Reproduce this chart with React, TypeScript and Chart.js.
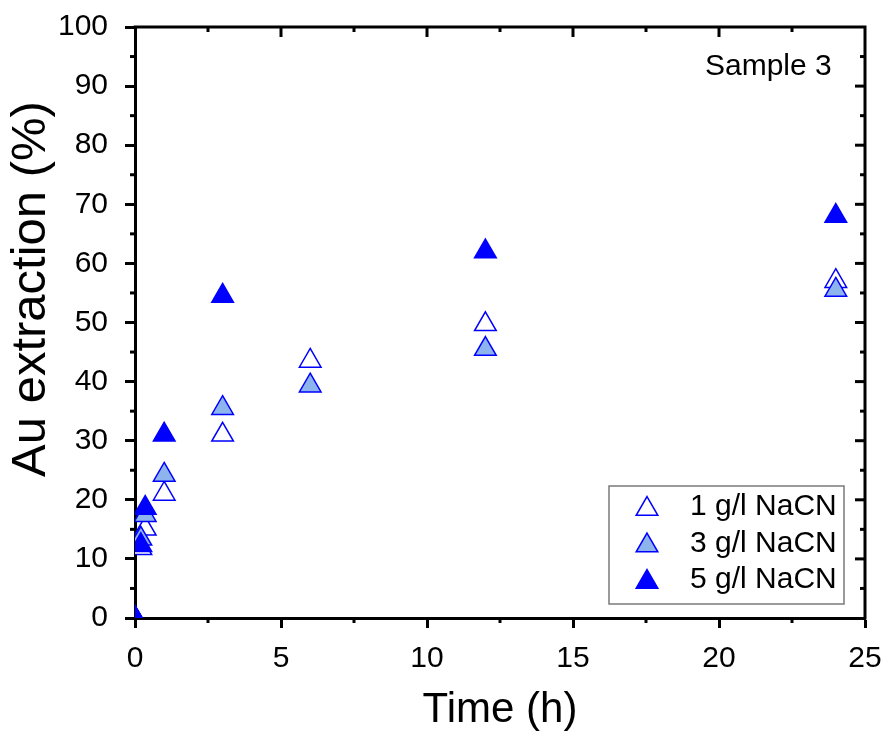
import { useEffect, useRef } from "react";
import { Chart, registerables } from "chart.js";

Chart.register(...registerables);

// Leaching time (h) and Au extraction (%) for each cyanide concentration
const time1 = [0, 0.2, 0.35, 1, 3, 6, 12, 24];
const gold1 = [0, 11.8, 15.1, 21, 31, 43.5, 49.7, 57];
const time3 = [0, 0.2, 0.35, 1, 3, 6, 12, 24];
const gold3 = [0, 13.4, 17.4, 24.2, 35.5, 39.3, 45.5, 55.5];
const time5 = [0, 0.2, 0.35, 1, 3, 12, 24];
const gold5 = [0, 12.3, 18.6, 31, 54.5, 62, 68];

const seriesNames = ["1 g/l NaCN", "3 g/l NaCN", "5 g/l NaCN"];
const seriesFills = ["#ffffff", "#8eb4ee", "#0000ff"];
const sampleName = "Sample 3";
const xTitle = "Time (h)";
const yTitle = "Au extraction (%)";

const xMin = 0;
const xMax = 25;
const xStep = 5;
const yMin = 0;
const yMax = 100;
const yStep = 10;

const FONT = "'Liberation Sans', Arial, sans-serif";
const EDGE = "#0000ff";
const R = 12.5;

function pairs(xs: number[], ys: number[]) {
  return xs.map((x, i) => ({ x, y: ys[i] }));
}

function triangle(ctx: CanvasRenderingContext2D, x: number, y: number, r: number, fill: string) {
  ctx.beginPath();
  ctx.moveTo(x, y - r);
  ctx.lineTo(x + r * Math.sin((2 * Math.PI) / 3), y + r / 2);
  ctx.lineTo(x - r * Math.sin((2 * Math.PI) / 3), y + r / 2);
  ctx.closePath();
  ctx.fillStyle = fill;
  ctx.fill();
  ctx.lineWidth = 1.5;
  ctx.strokeStyle = EDGE;
  ctx.stroke();
}

// keep the plot box where the layout padding puts it
function fixScale(s: any) {
  s.paddingTop = 0;
  s.paddingBottom = 0;
  s.paddingLeft = 0;
  s.paddingRight = 0;
}

// Frame on all four sides, minor ticks, mirrored ticks, titles and legend
const framePlugin = {
  id: "frame",
  afterDraw(chart: any) {
    const { ctx, chartArea: a, scales } = chart;
    const xs = scales.x;
    const ys = scales.y;
    ctx.save();
    ctx.strokeStyle = "#000";
    ctx.lineWidth = 3;
    ctx.lineCap = "butt";
    ctx.beginPath();
    ctx.moveTo(a.left - 1.5, a.top);
    ctx.lineTo(a.right, a.top);
    ctx.lineTo(a.right, a.bottom + 1.5);
    ctx.stroke();

    const tick = (x1: number, y1: number, x2: number, y2: number) => {
      ctx.beginPath();
      ctx.moveTo(x1, y1);
      ctx.lineTo(x2, y2);
      ctx.stroke();
    };
    for (let v = xMin; v <= xMax + 1e-9; v += xStep / 2) {
      const px = xs.getPixelForValue(v);
      const major = Math.abs(v / xStep - Math.round(v / xStep)) < 1e-6;
      const len = major ? 10 : 5;
      if (!major) tick(px, a.bottom, px, a.bottom + len);
      if (v > xMin && v < xMax) tick(px, a.top, px, a.top + len);
    }
    for (let v = yMin; v <= yMax + 1e-9; v += yStep / 2) {
      const py = ys.getPixelForValue(v);
      const major = Math.abs(v / yStep - Math.round(v / yStep)) < 1e-6;
      const len = major ? 10 : 5;
      if (!major) tick(a.left - len, py, a.left, py);
      if (v > yMin && v < yMax) tick(a.right - len, py, a.right, py);
    }

    // axis titles
    ctx.fillStyle = "#000";
    ctx.textAlign = "center";
    ctx.textBaseline = "middle";
    ctx.font = `42px ${FONT}`;
    ctx.fillText(xTitle, (a.left + a.right) / 2, a.bottom + 92);
    ctx.save();
    ctx.translate(a.left - 104, a.top + 262);
    ctx.rotate(-Math.PI / 2);
    ctx.font = `49px ${FONT}`;
    ctx.fillText(yTitle, 0, 0);
    ctx.restore();

    // sample label
    ctx.font = `30px ${FONT}`;
    ctx.textAlign = "left";
    ctx.textBaseline = "alphabetic";
    ctx.fillText(sampleName, a.right - 160, a.top + 48);

    // legend
    const bx = a.right - 256;
    const by = a.bottom - 132;
    const bw = 235;
    const bh = 118;
    ctx.lineWidth = 1.5;
    ctx.strokeStyle = "#7a7a7a";
    ctx.strokeRect(bx, by, bw, bh);
    ctx.font = `30px ${FONT}`;
    ctx.textBaseline = "middle";
    seriesNames.forEach((name, i) => {
      const cy = by + 19 + i * 36.5;
      triangle(ctx, bx + 38, cy + 4, R, seriesFills[i]);
      ctx.fillStyle = "#000";
      ctx.fillText(name, bx + 81, cy + 2);
    });
    ctx.restore();
  },
};

export default function App() {
  const ref = useRef<HTMLCanvasElement | null>(null);

  useEffect(() => {
    if (!ref.current) return;
    const tickFont = { family: FONT, size: 30 };
    const chart = new Chart(ref.current, {
      type: "scatter",
      data: {
        datasets: [
          { label: seriesNames[0], data: pairs(time1, gold1), order: 3, backgroundColor: seriesFills[0] },
          { label: seriesNames[1], data: pairs(time3, gold3), order: 2, backgroundColor: seriesFills[1] },
          { label: seriesNames[2], data: pairs(time5, gold5), order: 1, backgroundColor: seriesFills[2] },
        ].map((d) => ({
          ...d,
          borderColor: EDGE,
          borderWidth: 1.5,
          pointStyle: "triangle",
          pointRadius: R,
          pointHoverRadius: R,
          showLine: false,
        })),
      },
      options: {
        animation: false,
        responsive: false,
        maintainAspectRatio: false,
        layout: { padding: { top: 27, right: 23, left: 0, bottom: 0 } },
        plugins: { legend: { display: false }, tooltip: { enabled: false } },
        scales: {
          x: {
            type: "linear",
            min: xMin,
            max: xMax,
            ticks: { stepSize: xStep, font: tickFont, color: "#000", padding: 13, maxRotation: 0 },
            grid: { display: true, drawOnChartArea: false, drawTicks: true, tickLength: 10, tickWidth: 3, tickColor: "#000" },
            border: { display: true, width: 3, color: "#000" },
            title: { display: false },
            afterFit: (s: any) => { s.height = 119; fixScale(s); },
          },
          y: {
            type: "linear",
            min: yMin,
            max: yMax,
            ticks: { stepSize: yStep, font: tickFont, color: "#000", padding: 17 },
            grid: { display: true, drawOnChartArea: false, drawTicks: true, tickLength: 10, tickWidth: 3, tickColor: "#000" },
            border: { display: true, width: 3, color: "#000" },
            title: { display: false },
            afterFit: (s: any) => { s.width = 135; fixScale(s); },
          },
        },
      },
      plugins: [framePlugin],
    } as any);
    return () => chart.destroy();
  }, []);

  return (
    <div style={{ position: "fixed", left: 0, top: 0, width: 888, height: 737, background: "#fff" }}>
      <canvas ref={ref} width={888} height={737} style={{ display: "block", width: 888, height: 737 }} />
    </div>
  );
}
